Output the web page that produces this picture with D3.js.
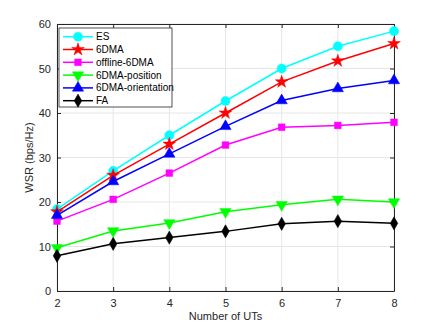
<!DOCTYPE html>
<html>
<head>
<meta charset="utf-8">
<script src="https://cdn.jsdelivr.net/npm/d3@7"></script>
<style>
  body { margin: 0; background: #fff; }
  text { font-family: "Liberation Sans", Arial, sans-serif; }
</style>
</head>
<body>
<div id="chart"></div>
<script>
// data
const numUTs = [2, 3, 4, 5, 6, 7, 8];
const esVals = [18.4, 27.0, 35.0, 42.7, 50.0, 55.0, 58.4];
const sixDmaVals = [17.8, 26.0, 33.0, 40.0, 47.0, 51.7, 55.6];
const offlineVals = [15.7, 20.6, 26.5, 32.8, 36.8, 37.2, 37.9];
const positionVals = [9.7, 13.5, 15.3, 17.8, 19.4, 20.6, 20.0];
const orientationVals = [17.0, 24.6, 30.8, 37.0, 42.8, 45.5, 47.3];
const faVals = [7.9, 10.6, 12.0, 13.4, 15.1, 15.7, 15.2];
const yTicks = [0, 10, 20, 30, 40, 50, 60];

const series = [
    { name: "ES", values: esVals, color: "#00ffff", symbol: d3.symbolCircle, size: 65 },
    { name: "6DMA", values: sixDmaVals, color: "#ff0000", symbol: d3.symbolStar, size: 50 },
    { name: "offline-6DMA", values: offlineVals, color: "#ff00ff", symbol: d3.symbolSquare, size: 45 },
    { name: "6DMA-position", values: positionVals, color: "#00ff00", symbol: "down", size: 55 },
    { name: "6DMA-orientation", values: orientationVals, color: "#0000ff", symbol: d3.symbolTriangle, size: 55 },
    { name: "FA", values: faVals, color: "#000000", symbol: d3.symbolDiamond, size: 50 }
];

const W = 436, H = 327;
const margin = { top: 24, right: 42, bottom: 36, left: 57 };
const width = W - margin.left - margin.right;
const height = H - margin.top - margin.bottom;

const svg = d3.select("#chart")
    .append("svg")
    .attr("width", W)
    .attr("height", H);

const g = svg.append("g")
    .attr("transform", "translate(" + margin.left + "," + margin.top + ")");

const x = d3.scaleLinear().domain([2, 8]).range([0, width]);
const y = d3.scaleLinear().domain([0, 60]).range([height, 0]);

// grid
g.append("g").selectAll("line")
    .data(numUTs)
    .enter().append("line")
    .attr("x1", d => x(d)).attr("x2", d => x(d))
    .attr("y1", 0).attr("y2", height)
    .attr("stroke", "#e6e6e6").attr("stroke-width", 1);

g.append("g").selectAll("line")
    .data(yTicks)
    .enter().append("line")
    .attr("x1", 0).attr("x2", width)
    .attr("y1", d => y(d)).attr("y2", d => y(d))
    .attr("stroke", "#e6e6e6").attr("stroke-width", 1);

// axes (inward ticks, MATLAB style)
function styleAxis(sel) {
    sel.selectAll("path").attr("stroke", "#262626");
    sel.selectAll("line").attr("stroke", "#262626");
    sel.selectAll("text").attr("fill", "#262626").attr("font-size", 11);
}

g.append("g")
    .attr("transform", "translate(0," + height + ")")
    .call(d3.axisBottom(x).tickValues(numUTs).tickFormat(d3.format("d")).tickSizeInner(-4).tickSizeOuter(0).tickPadding(8))
    .call(styleAxis);

g.append("g")
    .call(d3.axisTop(x).tickValues(numUTs).tickFormat("").tickSizeInner(-4).tickSizeOuter(0))
    .call(styleAxis);

g.append("g")
    .call(d3.axisLeft(y).tickValues(yTicks).tickSizeInner(-4).tickSizeOuter(0).tickPadding(6))
    .call(styleAxis);

g.append("g")
    .attr("transform", "translate(" + width + ",0)")
    .call(d3.axisRight(y).tickValues(yTicks).tickFormat("").tickSizeInner(-4).tickSizeOuter(0))
    .call(styleAxis);

// axis labels
g.append("text")
    .attr("x", width / 2)
    .attr("y", height + 29)
    .attr("text-anchor", "middle")
    .attr("font-size", 11)
    .attr("fill", "#262626")
    .text("Number of UTs");

g.append("text")
    .attr("transform", "rotate(-90)")
    .attr("x", -height / 2)
    .attr("y", -24)
    .attr("text-anchor", "middle")
    .attr("font-size", 11)
    .attr("fill", "#262626")
    .text("WSR (bps/Hz)");

function markerPath(s) {
    if (s.symbol === "down") return d3.symbol(d3.symbolTriangle, s.size)();
    return d3.symbol(s.symbol, s.size)();
}
function markerTransform(s, px, py) {
    return "translate(" + px + "," + py + ")" + (s.symbol === "down" ? " rotate(180)" : "");
}

const line = d3.line()
    .x((d, i) => x(numUTs[i]))
    .y(d => y(d));

series.forEach(s => {
    g.append("path")
        .datum(s.values)
        .attr("fill", "none")
        .attr("stroke", s.color)
        .attr("stroke-width", 1.5)
        .attr("d", line);

    g.append("g").selectAll("path")
        .data(s.values)
        .enter().append("path")
        .attr("d", markerPath(s))
        .attr("transform", (d, i) => markerTransform(s, x(numUTs[i]), y(d)))
        .attr("fill", s.color)
        .attr("stroke", s.color)
        .attr("stroke-width", 0.5);
});

// legend
const legend = g.append("g").attr("transform", "translate(2,4)");
legend.append("rect")
    .attr("x", 0).attr("y", 0)
    .attr("width", 113).attr("height", 79)
    .attr("fill", "#fff")
    .attr("stroke", "#262626")
    .attr("stroke-width", 0.8);

series.forEach((s, i) => {
    const ry = 8.7 + i * 12.8;
    legend.append("line")
        .attr("x1", 4).attr("x2", 34)
        .attr("y1", ry).attr("y2", ry)
        .attr("stroke", s.color).attr("stroke-width", 1.5);
    legend.append("path")
        .attr("d", markerPath(s))
        .attr("transform", markerTransform(s, 19, ry))
        .attr("fill", s.color).attr("stroke", s.color).attr("stroke-width", 0.5);
    legend.append("text")
        .attr("x", 37)
        .attr("y", ry)
        .attr("dy", "0.35em")
        .attr("font-size", 10)
        .attr("fill", "#000")
        .text(s.name);
});
</script>
</body>
</html>
